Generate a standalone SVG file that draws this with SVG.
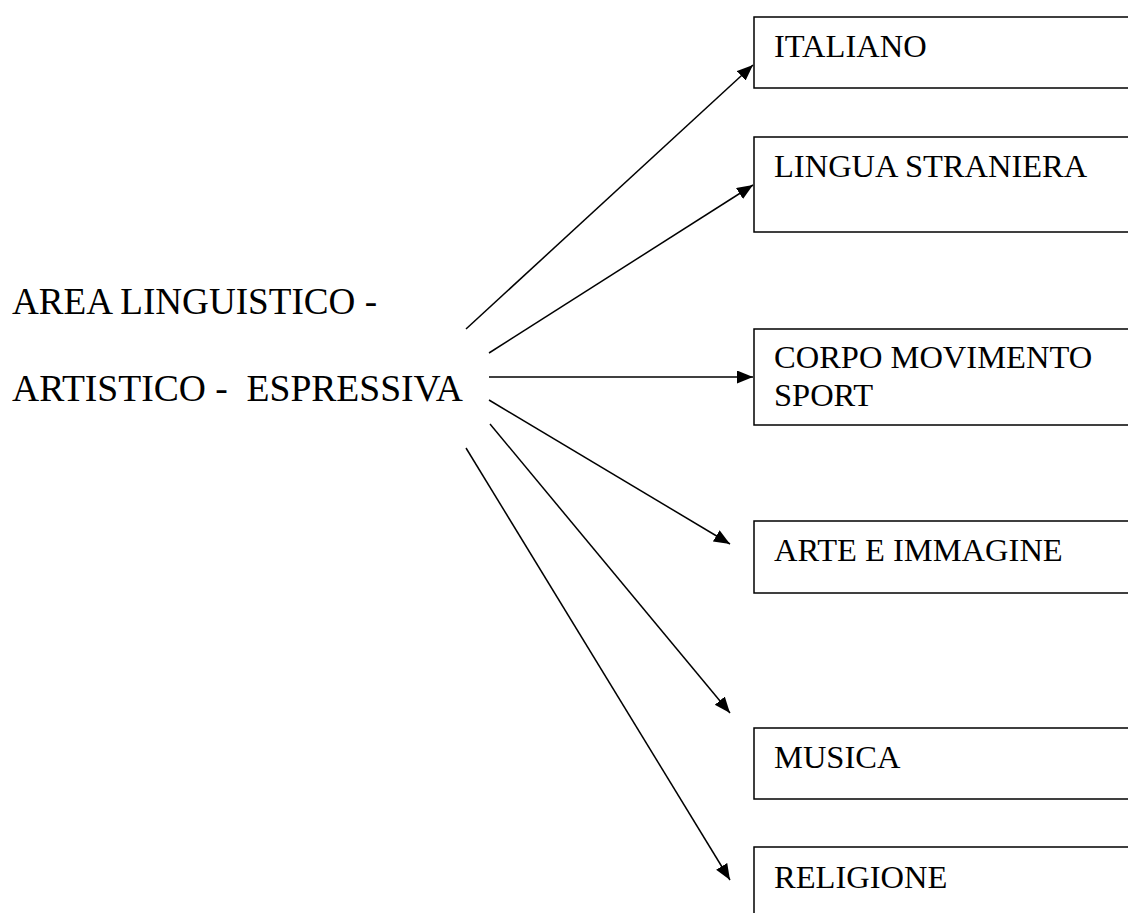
<svg xmlns="http://www.w3.org/2000/svg" width="1128" height="913" viewBox="0 0 1128 913">
<style>
.box{fill:#fff;stroke:#000;stroke-width:1.5}
.t{font-family:"Liberation Serif","Times New Roman",serif;font-size:32.5px;fill:#000}
.main{font-family:"Liberation Serif","Times New Roman",serif;font-size:37px;fill:#000}
.c{stroke:#000;stroke-width:1.5;fill:none;marker-end:url(#ah)}
</style>
<defs>
<marker id="ah" markerUnits="userSpaceOnUse" markerWidth="18" markerHeight="14" refX="16" refY="6.5" orient="auto">
<path d="M0,0 L16,6.5 L0,13 z" fill="#000"/>
</marker>
</defs>
<rect width="1128" height="913" fill="#fff"/>
<g id="main-node">
<text class="main" x="12" y="314" textLength="365" lengthAdjust="spacingAndGlyphs">AREA LINGUISTICO -</text>
<text class="main" x="12" y="401" xml:space="preserve" textLength="451" lengthAdjust="spacingAndGlyphs">ARTISTICO -  ESPRESSIVA</text>
</g>
<g id="connectors">
<line class="c" x1="466" y1="329" x2="753" y2="65"/>
<line class="c" x1="489" y1="353" x2="753" y2="185"/>
<line class="c" x1="489" y1="377" x2="753" y2="377"/>
<line class="c" x1="489" y1="400" x2="730" y2="544"/>
<line class="c" x1="490" y1="424" x2="730" y2="713"/>
<line class="c" x1="466" y1="448" x2="730" y2="880"/>
</g>
<g id="italiano">
<rect class="box" x="754" y="17" width="390" height="71"/>
<text class="t" x="774" y="57">ITALIANO</text>
</g>
<g id="lingua-straniera">
<rect class="box" x="754" y="137" width="390" height="95"/>
<text class="t" x="774" y="177">LINGUA STRANIERA</text>
</g>
<g id="corpo-movimento-sport">
<rect class="box" x="754" y="329" width="390" height="96"/>
<text class="t" x="774" y="368">CORPO MOVIMENTO</text>
<text class="t" x="774" y="406">SPORT</text>
</g>
<g id="arte-immagine">
<rect class="box" x="754" y="521" width="390" height="72"/>
<text class="t" x="774" y="561">ARTE E IMMAGINE</text>
</g>
<g id="musica">
<rect class="box" x="754" y="728" width="390" height="71"/>
<text class="t" x="774" y="768">MUSICA</text>
</g>
<g id="religione">
<rect class="box" x="754" y="847" width="390" height="90"/>
<text class="t" x="774" y="888">RELIGIONE</text>
</g>
</svg>
